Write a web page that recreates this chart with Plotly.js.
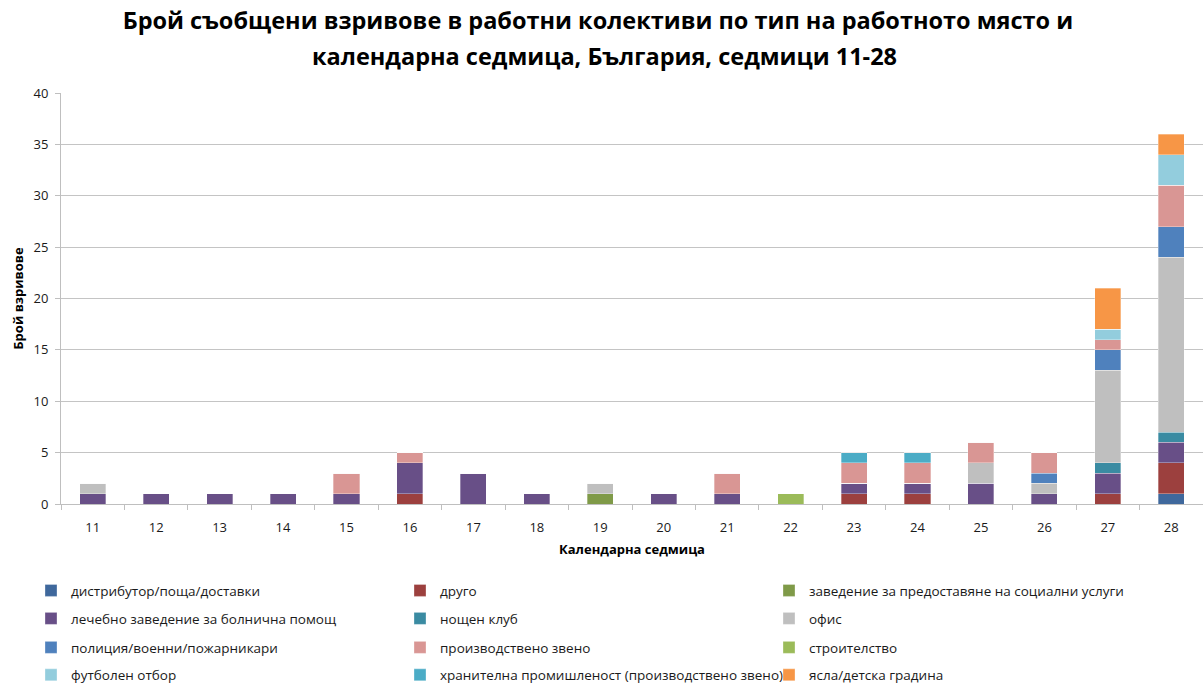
<!DOCTYPE html>
<html>
<head>
<meta charset="utf-8">
<script src="https://cdn.plot.ly/plotly-3.0.1.min.js"></script>
<style>html,body{margin:0;padding:0;background:#fff;}#chart{width:1203px;height:685px;}</style>
</head>
<body>
<div id="chart"></div>
<script>
var weeks = ['11','12','13','14','15','16','17','18','19','20','21','22','23','24','25','26','27','28'];

var seriesNames = [
  'дистрибутор/поща/доставки',
  'друго',
  'заведение за предоставяне на социални услуги',
  'лечебно заведение за болнична помощ',
  'нощен клуб',
  'офис',
  'полиция/военни/пожарникари',
  'производствено звено',
  'строителство',
  'футболен отбор',
  'хранителна промишленост (производствено звено)',
  'ясла/детска градина'
];

//                 11 12 13 14 15 16 17 18 19 20 21 22 23 24 25 26 27 28
var distributor = [0, 0, 0, 0, 0, 0, 0, 0, 0, 0, 0, 0, 0, 0, 0, 0, 0, 1];
var drugo       = [0, 0, 0, 0, 0, 1, 0, 0, 0, 0, 0, 0, 1, 1, 0, 0, 1, 3];
var zavedenie   = [0, 0, 0, 0, 0, 0, 0, 0, 1, 0, 0, 0, 0, 0, 0, 0, 0, 0];
var lechebno    = [1, 1, 1, 1, 1, 3, 3, 1, 0, 1, 1, 0, 1, 1, 2, 1, 2, 2];
var noshten     = [0, 0, 0, 0, 0, 0, 0, 0, 0, 0, 0, 0, 0, 0, 0, 0, 1, 1];
var ofis        = [1, 0, 0, 0, 0, 0, 0, 0, 1, 0, 0, 0, 0, 0, 2, 1, 9, 17];
var policia     = [0, 0, 0, 0, 0, 0, 0, 0, 0, 0, 0, 0, 0, 0, 0, 1, 2, 3];
var proizvodstvo= [0, 0, 0, 0, 2, 1, 0, 0, 0, 0, 2, 0, 2, 2, 2, 2, 1, 4];
var stroitelstvo= [0, 0, 0, 0, 0, 0, 0, 0, 0, 0, 0, 1, 0, 0, 0, 0, 0, 0];
var futbolen    = [0, 0, 0, 0, 0, 0, 0, 0, 0, 0, 0, 0, 0, 0, 0, 0, 1, 3];
var hranitelna  = [0, 0, 0, 0, 0, 0, 0, 0, 0, 0, 0, 0, 1, 1, 0, 0, 0, 0];
var yasla       = [0, 0, 0, 0, 0, 0, 0, 0, 0, 0, 0, 0, 0, 0, 0, 0, 4, 2];

var seriesValues = [distributor, drugo, zavedenie, lechebno, noshten, ofis, policia, proizvodstvo, stroitelstvo, futbolen, hranitelna, yasla];

var colors = ['#3F689C','#9C403E','#7F9A48','#684F87','#3A8BA2','#BFBFBF','#4F81BD','#D99694','#9BBB59','#93CDDD','#4BACC6','#F79646'];
var legendIds = ['legend','legend2','legend3','legend4'];

var FONT = 'Open Sans, Noto Sans, sans-serif';

var traces = seriesNames.map(function(name, i) {
  return {
    type: 'bar',
    name: name,
    x: weeks,
    y: seriesValues[i],
    marker: {color: colors[i], line: {color: 'rgba(255,255,255,0.45)', width: 0.7}},
    legend: legendIds[Math.floor(i / 3)],
    hoverinfo: 'name+y'
  };
});

var plotTop = 93, plotBottom = 504.3, plotH = plotBottom - plotTop;
function py(px) { return (plotBottom - px) / plotH; }
var legendX = (31 - 61) / 1142;
var rowYs = [591, 619, 648, 675.5];

function mkLegend(yPx) {
  return {
    orientation: 'h',
    x: legendX, xanchor: 'left',
    y: py(yPx), yanchor: 'middle',
    entrywidth: 324, entrywidthmode: 'pixels',
    traceorder: 'normal',
    font: {family: FONT, size: 13.5, color: '#1a1a1a'},
    bgcolor: 'rgba(0,0,0,0)',
    itemclick: false, itemdoubleclick: false
  };
}

var layout = {
  width: 1203, height: 685,
  margin: {l: 61, r: 0, t: plotTop, b: 685 - plotBottom, pad: 0, autoexpand: false},
  paper_bgcolor: '#fff', plot_bgcolor: '#fff',
  barmode: 'stack',
  bargap: 0.59,
  font: {family: FONT, color: '#1a1a1a'},
  title: {
    text: 'Брой съобщени взривове в работни колективи по тип на работното място и',
    font: {family: FONT, size: 23.5, color: '#000', weight: 'bold'},
    x: 0.497, xanchor: 'center', xref: 'container',
    y: 1 - 21 / 685, yanchor: 'middle', yref: 'container'
  },
  annotations: [{
    text: 'календарна седмица, България, седмици 11-28',
    xref: 'paper', yref: 'paper',
    x: (604 - 61) / 1142, xanchor: 'center',
    y: py(56), yanchor: 'middle',
    showarrow: false,
    font: {family: FONT, size: 23.5, color: '#000', weight: 'bold'}
  }],
  xaxis: {
    type: 'category',
    showgrid: false,
    showline: true, linecolor: '#BFBFBF', linewidth: 1,
    ticks: 'outside', tickson: 'boundaries', ticklen: 5, tickcolor: '#BFBFBF',
    tickfont: {family: FONT, size: 13, color: '#1a1a1a'},
    ticklabelstandoff: 11,
    title: {text: 'Календарна седмица', font: {family: FONT, size: 13, color: '#000', weight: 'bold'}, standoff: 10},
    automargin: false,
    fixedrange: true
  },
  yaxis: {
    range: [0, 40], dtick: 5, tick0: 0,
    showgrid: true, gridcolor: '#C4C4C4', gridwidth: 1,
    zeroline: false,
    showline: true, linecolor: '#BFBFBF', linewidth: 1,
    ticks: 'outside', ticklen: 5, tickcolor: '#BFBFBF',
    tickfont: {family: FONT, size: 13, color: '#1a1a1a'},
    ticklabelstandoff: 4,
    title: {text: 'Брой взривове', font: {family: FONT, size: 13, color: '#000', weight: 'bold'}, standoff: 6},
    automargin: false,
    fixedrange: true
  },
  showlegend: true,
  legend: mkLegend(rowYs[0]),
  legend2: mkLegend(rowYs[1]),
  legend3: mkLegend(rowYs[2]),
  legend4: mkLegend(rowYs[3])
};

Plotly.newPlot('chart', traces, layout, {displayModeBar: false, staticPlot: false});
</script>
</body>
</html>
